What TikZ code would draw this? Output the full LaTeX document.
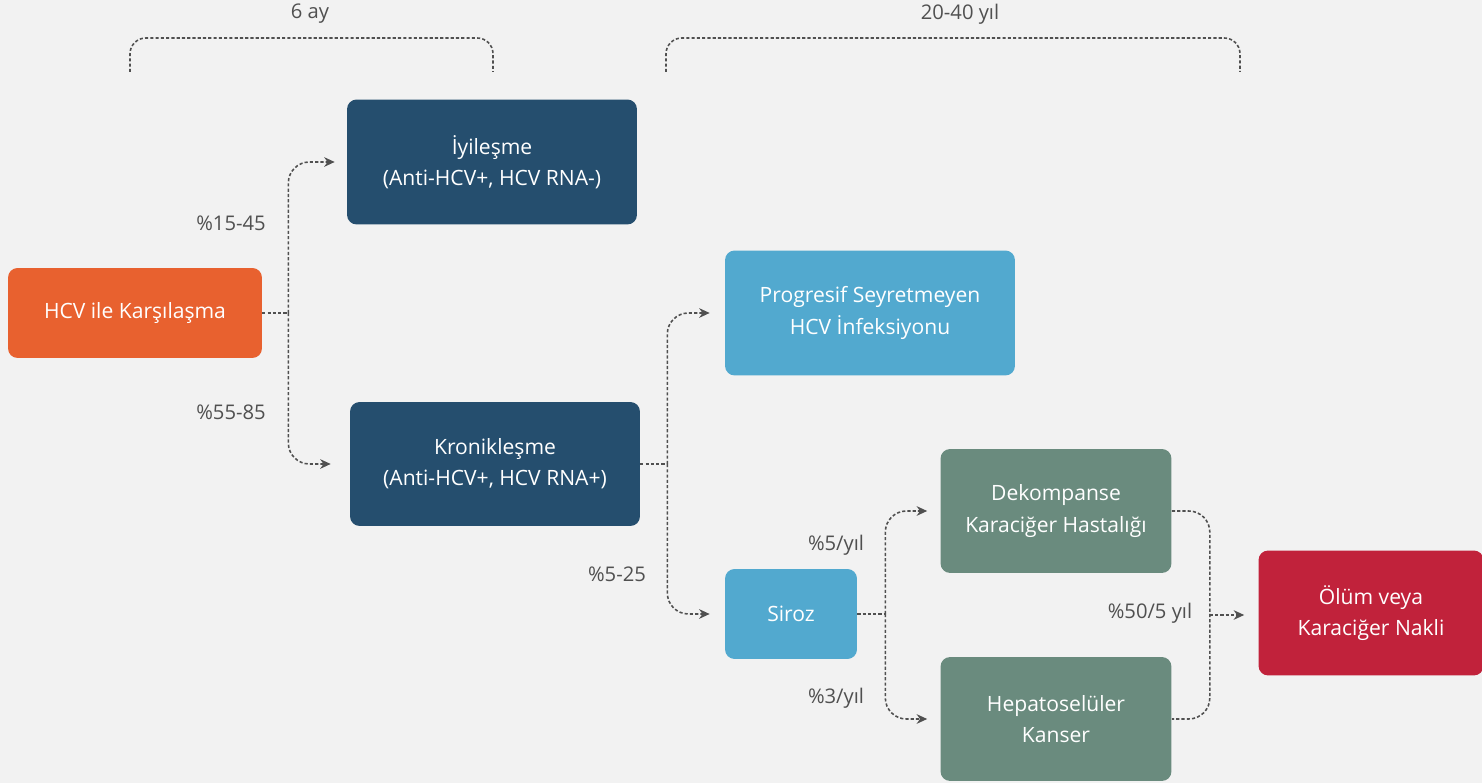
\documentclass[tikz,border=0pt]{standalone}
\usepackage{fontspec}
\setmainfont{Open Sans}
\usetikzlibrary{calc,arrows.meta}

\definecolor{bggrey}{HTML}{F2F2F2}
\definecolor{hcvorange}{HTML}{E8612F}
\definecolor{darkblue}{HTML}{254E6E}
\definecolor{lightblue}{HTML}{52A9CF}
\definecolor{sagegreen}{HTML}{6A8B7E}
\definecolor{deathred}{HTML}{C1223B}
\definecolor{linegrey}{HTML}{505050}

\begin{document}
\begin{tikzpicture}[x=0.02cm,y=-0.02cm,
    box/.style={rounded corners=5.5pt, text=white, align=center,
        font=\fontsize{12}{17.8}\selectfont, inner sep=0pt},
    conn/.style={draw=linegrey, line width=0.9pt, dash pattern=on 1.8pt off 1.2pt},
    arr/.style={conn, rounded corners=12pt, -{Stealth[length=6pt,width=5.5pt]}},
    lbl/.style={text=linegrey, font=\fontsize{11.5}{13}\selectfont}]
    \useasboundingbox[fill=bggrey] (0,0) rectangle (1482,783);

    % boxes
    \node[box, fill=hcvorange, minimum width=5.08cm, minimum height=1.8cm] (hcv) at (135,313) {HCV ile Karşılaşma};
    \node[box, fill=darkblue, minimum width=5.8cm, minimum height=2.5cm] (iyi) at (492,162) {İyileşme\\(Anti-HCV+, HCV RNA-)};
    \node[box, fill=darkblue, minimum width=5.8cm, minimum height=2.48cm] (kron) at (495,464) {Kronikleşme\\(Anti-HCV+, HCV RNA+)};
    \node[box, fill=lightblue, minimum width=5.8cm, minimum height=2.5cm] (prog) at (870,313) {Progresif Seyretmeyen\\HCV İnfeksiyonu};
    \node[box, fill=lightblue, minimum width=2.64cm, minimum height=1.8cm] (siroz) at (791,614) {Siroz};
    \node[box, fill=sagegreen, minimum width=4.62cm, minimum height=2.48cm] (dek) at (1056,511) {Dekompanse\\Karaciğer Hastalığı};
    \node[box, fill=sagegreen, minimum width=4.62cm, minimum height=2.48cm] (hep) at (1056,719) {Hepatoselüler\\Kanser};
    \node[box, fill=deathred, minimum width=4.5cm, minimum height=2.5cm] (olum) at (1371,613) {Ölüm veya\\Karaciğer Nakli};

    % time spans
    \draw[conn, rounded corners=9pt] (130,72) -- (130,38) -- (493,38) -- (493,72);
    \draw[conn, rounded corners=9pt] (666,72) -- (666,38) -- (1240,38) -- (1240,72);
    \node[lbl] (ay) at (310,14) {6 ay};
    \node[lbl] (yil) at (960,14) {20-40 yıl};

    % junctions
    \draw[conn] (hcv.east) -- ++(26,0) coordinate (j1);
    \draw[conn] (kron.east) -- ++(27,0) coordinate (j2);
    \draw[conn] (siroz.east) -- ++(28,0) coordinate (j3);
    \draw[conn, rounded corners=12pt] (dek.east) -- ++(38,0) |- (hep.east);
    \coordinate (j4) at ($(dek.east)!0.5!(hep.east)+(38,0)$);

    \foreach \s/\t/\g in {
    j1/iyi/12,
    j1/kron/19,
    j2/prog/15,
    j2/siroz/15,
    j3/dek/13,
    j3/hep/13
    }{\draw[arr, shorten >=\g*0.02cm] (\s) |- (\t.west);}
    \draw[arr, shorten >=14*0.02cm] (j4) -- (j4 -| olum.west);

    % rates
    \node[lbl] (r1) at (231,223) {\%15-45};
    \node[lbl] (r2) at (231,412) {\%55-85};
    \node[lbl] (r3) at (617,574) {\%5-25};
    \node[lbl] (r4) at (836,545) {\%5/yıl};
    \node[lbl] (r5) at (836,698) {\%3/yıl};
    \node[lbl] (r6) at (1150,613) {\%50/5 yıl};
\end{tikzpicture}
\end{document}
